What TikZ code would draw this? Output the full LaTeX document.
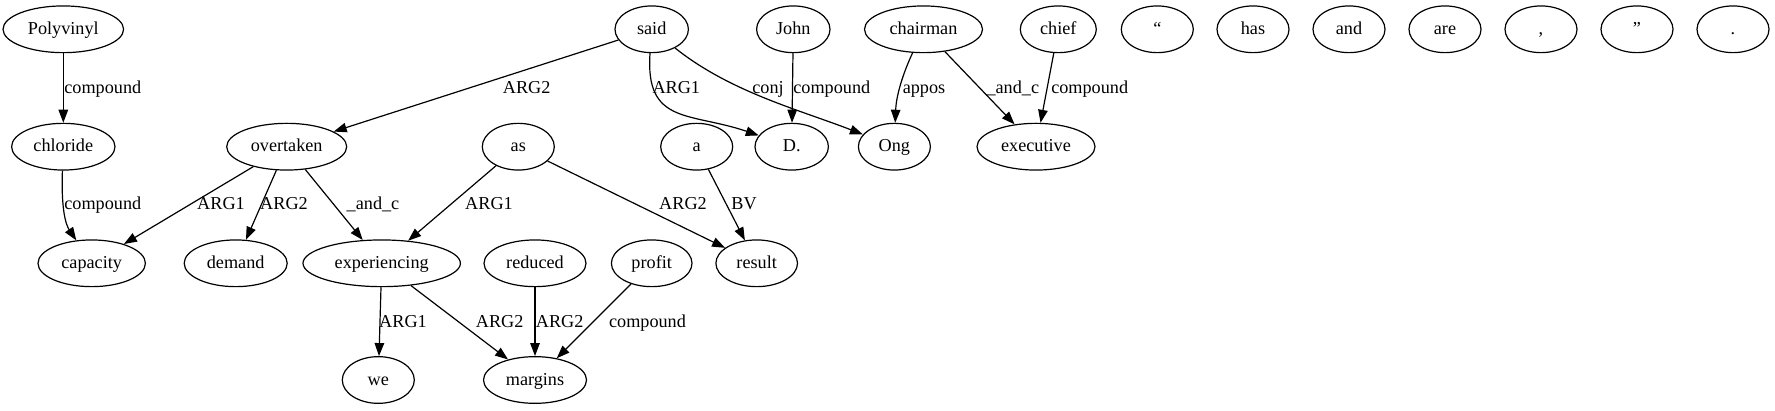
\documentclass[tikz,border=0pt]{standalone}
\usepackage{fontspec}
\setmainfont{Liberation Serif}
\usetikzlibrary{arrows.meta,shapes.geometric}
\begin{document}
\begin{tikzpicture}[x=1pt,y=-1pt,
  every node/.style={font=\rmfamily\fontsize{18.2pt}{22pt}\selectfont},
  wn/.style={ellipse,draw,line width=1.2pt,inner sep=0pt,minimum height=46.7pt,text height=13pt,text depth=3pt},
  lbl/.style={anchor=base,inner sep=0pt},
  edge/.style={line width=1.2pt,-{Triangle[length=13pt,width=9.5pt]}}]
\useasboundingbox (0,0) rectangle (1775,411);
% row 1
\node[wn,minimum width=120.6pt] (pv) at (63.3,29.3) {Polyvinyl};
\node[wn,minimum width=73.4pt] (said) at (651.7,29.3) {said};
\node[wn,minimum width=73.4pt] (john) at (793.3,29.3) {John};
\node[wn,minimum width=118pt] (chm) at (923.5,29.3) {chairman};
\node[wn,minimum width=76pt] (chief) at (1058.3,29.3) {chief};
\node[wn,minimum width=72pt] (lq) at (1157.3,29.3) {“};
\node[wn,minimum width=72pt] (has) at (1253,29.3) {has};
\node[wn,minimum width=72pt] (and) at (1349,29.3) {and};
\node[wn,minimum width=72pt] (are) at (1445,29.3) {are};
\node[wn,minimum width=72pt] (comma) at (1541,29.3) {,};
\node[wn,minimum width=72pt] (rq) at (1637,29.3) {”};
\node[wn,minimum width=72pt] (dot) at (1733,29.3) {.};
% row 2
\node[wn,minimum width=103.4pt] (chl) at (63.3,146.7) {chloride};
\node[wn,minimum width=120pt] (ot) at (286.7,146.7) {overtaken};
\node[wn,minimum width=72pt] (as) at (518.3,146.7) {as};
\node[wn,minimum width=72pt] (a) at (696.7,146.7) {a};
\node[wn,minimum width=73.4pt] (D) at (791.7,146.7) {D.};
\node[wn,minimum width=72pt] (ong) at (894.4,146.7) {Ong};
\node[wn,minimum width=118pt] (exe) at (1036,146.7) {executive};
% row 3
\node[wn,minimum width=107.4pt] (cap) at (91.7,263.3) {capacity};
\node[wn,minimum width=103pt] (dem) at (235.7,263.3) {demand};
\node[wn,minimum width=157.4pt] (exp) at (381.7,263.3) {experiencing};
\node[wn,minimum width=102pt] (red) at (535,263.3) {reduced};
\node[wn,minimum width=80.6pt] (prof) at (651.7,263.3) {profit};
\node[wn,minimum width=81.6pt] (res) at (756.7,263.3) {result};
% row 4
\node[wn,minimum width=72pt] (we) at (378.3,380) {we};
\node[wn,minimum width=103pt] (mar) at (535,380) {margins};
% edges
\draw[edge] (pv) -- (chl);
\draw[edge] (chl) .. controls (61,210) and (66,225) .. (cap);
\draw[edge] (ot) -- (cap);
\draw[edge] (ot) -- (dem);
\draw[edge] (ot) -- (exp);
\draw[edge] (as) -- (exp);
\draw[edge] (as) -- (res);
\draw[edge] (a) -- (res);
\draw[edge] (said) -- (ot);
\draw[edge] (said) .. controls (645,125) and (690,112) .. (D);
\draw[edge] (said) .. controls (730,92) and (800,110) .. (ong);
\draw[edge] (john) -- (D);
\draw[edge] (chm) .. controls (900,80) and (896,100) .. (ong);
\draw[edge] (chm) -- (exe);
\draw[edge] (chief) -- (exe);
\draw[edge] (exp) -- (we);
\draw[edge] (exp) -- (mar);
\draw[edge] (red) -- (mar);
\draw[edge] (prof) -- (mar);
% labels
\node[lbl] (l1) at (102.8,93.2) {compound};
\node[lbl] (l2) at (526.7,93.2) {ARG2};
\node[lbl] (l3) at (676.3,93.2) {ARG1};
\node[lbl] (l4) at (768,93.2) {conj};
\node[lbl] (l5) at (831.8,93.2) {compound};
\node[lbl] (l6) at (924,93.2) {appos};
\node[lbl] (l7) at (1012.8,93.2) {\_and\_c};
\node[lbl] (l8) at (1089.7,93.2) {compound};
\node[lbl] (l9) at (102.8,209.8) {compound};
\node[lbl] (l10) at (221,209.8) {ARG1};
\node[lbl] (l11) at (284,209.8) {ARG2};
\node[lbl] (l12) at (373,209.8) {\_and\_c};
\node[lbl] (l13) at (489,209.8) {ARG1};
\node[lbl] (l14) at (683,209.8) {ARG2};
\node[lbl] (l15) at (744,209.8) {BV};
\node[lbl] (l16) at (403,327.8) {ARG1};
\node[lbl] (l17) at (499.7,327.8) {ARG2};
\node[lbl] (l18) at (559.7,327.8) {ARG2};
\node[lbl] (l19) at (647.5,327.8) {compound};
\end{tikzpicture}
\end{document}
